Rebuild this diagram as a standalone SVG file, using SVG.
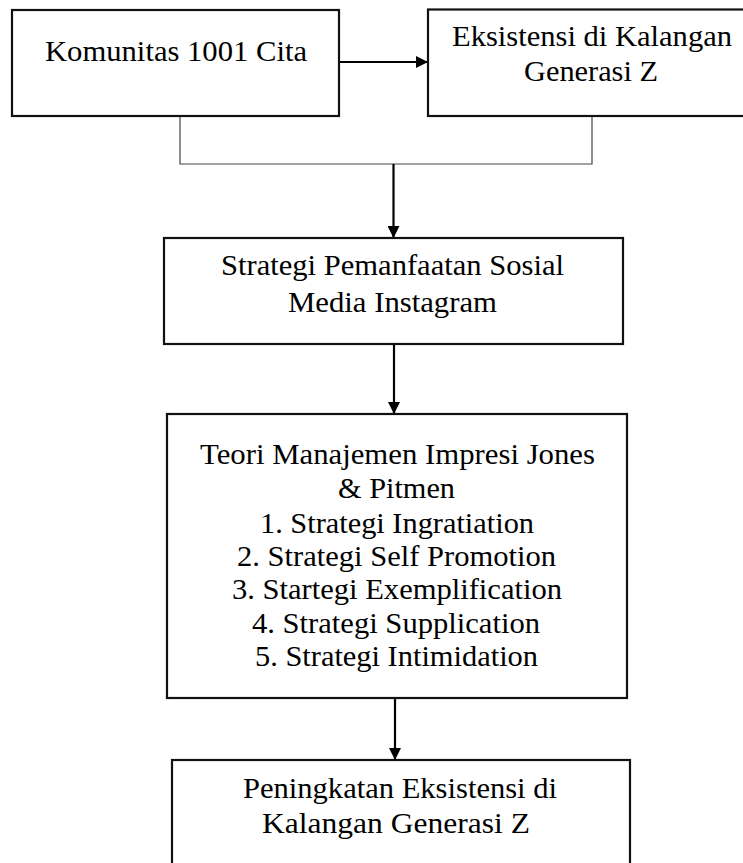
<svg xmlns="http://www.w3.org/2000/svg" width="743" height="863" viewBox="0 0 743 863">
<style>
.box{fill:#ffffff;stroke:#111111;stroke-width:2.2}
.t{font-family:"Liberation Serif","Times New Roman",serif;font-size:28.5px;fill:#000000;text-anchor:middle}
.thin{fill:none;stroke:#444444;stroke-width:1.2}
.arr{fill:none;stroke:#000000;stroke-width:2.2}
</style>
<defs>
<marker id="ah" viewBox="0 0 12 12" refX="12" refY="6" markerWidth="12" markerHeight="12" markerUnits="userSpaceOnUse" orient="auto">
<path d="M0,0 L12,6 L0,12 Z" fill="#000000"/>
</marker>
</defs>
<rect width="743" height="863" fill="#ffffff"/>
<g id="connectors">
<path class="thin" d="M180,116 V164 H592 V116"/>
<path class="arr" d="M339,62 H428" marker-end="url(#ah)"/>
<path class="arr" d="M393.5,164 V238" marker-end="url(#ah)"/>
<path class="arr" d="M394,344 V414" marker-end="url(#ah)"/>
<path class="arr" d="M395,698 V760" marker-end="url(#ah)"/>
</g>
<g id="node-komunitas">
<rect class="box" x="12" y="10" width="327" height="106"/>
<text class="t" x="176" y="61" textLength="262" lengthAdjust="spacingAndGlyphs">Komunitas 1001 Cita</text>
</g>
<g id="node-eksistensi">
<rect class="box" x="428" y="9.5" width="330" height="106.5"/>
<text class="t" x="592" y="46" textLength="280" lengthAdjust="spacingAndGlyphs">Eksistensi di Kalangan</text>
<text class="t" x="591" y="81" textLength="134" lengthAdjust="spacingAndGlyphs">Generasi Z</text>
</g>
<g id="node-strategi">
<rect class="box" x="164" y="238" width="459" height="106"/>
<text class="t" x="392.5" y="275" textLength="343" lengthAdjust="spacingAndGlyphs">Strategi Pemanfaatan Sosial</text>
<text class="t" x="392.5" y="312" textLength="209" lengthAdjust="spacingAndGlyphs">Media Instagram</text>
</g>
<g id="node-teori">
<rect class="box" x="167" y="414" width="460" height="284"/>
<text class="t" x="397.5" y="464" textLength="395" lengthAdjust="spacingAndGlyphs">Teori Manajemen Impresi Jones</text>
<text class="t" x="396.5" y="498" textLength="117" lengthAdjust="spacingAndGlyphs">&amp; Pitmen</text>
<text class="t" x="397" y="533" textLength="274" lengthAdjust="spacingAndGlyphs">1. Strategi Ingratiation</text>
<text class="t" x="396.5" y="566" textLength="319" lengthAdjust="spacingAndGlyphs">2. Strategi Self Promotion</text>
<text class="t" x="397" y="599" textLength="330" lengthAdjust="spacingAndGlyphs">3. Startegi Exemplification</text>
<text class="t" x="396" y="633" textLength="288" lengthAdjust="spacingAndGlyphs">4. Strategi Supplication</text>
<text class="t" x="396.5" y="666" textLength="283" lengthAdjust="spacingAndGlyphs">5. Strategi Intimidation</text>
</g>
<g id="node-peningkatan">
<rect class="box" x="172" y="760" width="458" height="120"/>
<text class="t" x="400" y="798" textLength="314" lengthAdjust="spacingAndGlyphs">Peningkatan Eksistensi di</text>
<text class="t" x="396" y="833" textLength="268" lengthAdjust="spacingAndGlyphs">Kalangan Generasi Z</text>
</g>
</svg>
